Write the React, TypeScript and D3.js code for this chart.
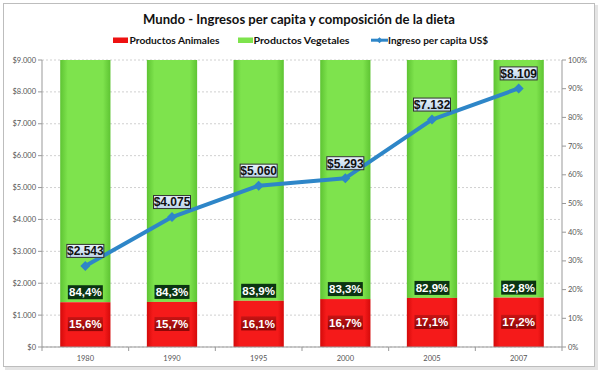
import React from "react";
import * as d3 from "d3";

const years = ["1980", "1990", "1995", "2000", "2005", "2007"];
const animales = [15.6, 15.7, 16.1, 16.7, 17.1, 17.2];
const vegetales = [84.4, 84.3, 83.9, 83.3, 82.9, 82.8];
const ingreso = [2543, 4075, 5060, 5293, 7132, 8109];
const leftTicks = [0, 1000, 2000, 3000, 4000, 5000, 6000, 7000, 8000, 9000];
const rightTicks = [0, 10, 20, 30, 40, 50, 60, 70, 80, 90, 100];

const W = 600, H = 376;
const M = { left: 42, right: 562, top: 60, bottom: 347 };

const fmtMoney = (v: number) => "$" + d3.format(",")(v).replace(/,/g, ".");
const fmtPct = (v: number) => v.toFixed(1).replace(".", ",") + "%";

export default function App() {
  const x = d3.scaleBand<string>().domain(years).range([M.left, M.right]).paddingInner(0.42).paddingOuter(0.21);
  const yL = d3.scaleLinear().domain([0, 9000]).range([M.bottom, M.top]);
  const yR = d3.scaleLinear().domain([0, 100]).range([M.bottom, M.top]);
  const cx = (y: string) => (x(y) as number) + x.bandwidth() / 2;
  const line = d3.line<number>().x((_, i) => cx(years[i])).y((d) => yL(d));
  const labelFont = "'Liberation Sans', Arial, sans-serif";
  const uiFont = "Lato, 'Open Sans', sans-serif";

  return (
    <div style={{ position: "fixed", left: 0, top: 0 }}>
      <svg width={W} height={H} style={{ display: "block" }}>
        <defs>
          <linearGradient id="gG" x1="0" x2="1" y1="0" y2="0">
            <stop offset="0" stopColor="#5ec433" />
            <stop offset="0.15" stopColor="#7ee34d" />
            <stop offset="0.85" stopColor="#7ee34d" />
            <stop offset="1" stopColor="#5ec433" />
          </linearGradient>
          <linearGradient id="gR" x1="0" x2="1" y1="0" y2="0">
            <stop offset="0" stopColor="#d40a0a" />
            <stop offset="0.12" stopColor="#f51a1a" />
            <stop offset="0.88" stopColor="#f51a1a" />
            <stop offset="1" stopColor="#d40a0a" />
          </linearGradient>
          <linearGradient id="gRL" x1="0" x2="0" y1="0" y2="1">
            <stop offset="0" stopColor="#c81414" />
            <stop offset="1" stopColor="#8a0606" />
          </linearGradient>
          <linearGradient id="gB" x1="0" x2="0" y1="0" y2="1">
            <stop offset="0" stopColor="#e8f2fb" />
            <stop offset="1" stopColor="#bcd3ea" />
          </linearGradient>
        </defs>
        <rect x={0} y={0} width={W} height={H} fill="#ffffff" />
        <rect x={3.5} y={3.5} width={591} height={363} fill="#fff" stroke="#bdbdbd" strokeWidth={1} />
        <rect x={5} y={367} width={591} height={3} fill="#e4e4e4" />
        <rect x={595} y={5} width={3} height={365} fill="#e4e4e4" />

        <text x={143} y={23.5} textLength={312} lengthAdjust="spacingAndGlyphs" fontFamily={uiFont} fontWeight="bold" fontSize={14} fill="#111">
          Mundo - Ingresos per capita y composición de la dieta
        </text>

        {/* legend */}
        <g fontFamily={uiFont} fontWeight="bold" fontSize={10} fill="#111">
          <rect x={113} y={37.5} width={15} height={5.5} fill="#ee1111" />
          <text x={129.5} y={44} textLength={90} lengthAdjust="spacingAndGlyphs">Productos Animales</text>
          <rect x={238} y={37.5} width={15} height={5.5} fill="#7ee34d" />
          <text x={253.5} y={44} textLength={96} lengthAdjust="spacingAndGlyphs">Productos Vegetales</text>
          <line x1={371} x2={388} y1={40.2} y2={40.2} stroke="#2e86c8" strokeWidth={3} />
          <path d="M379.5,37.2 L382.5,40.2 L379.5,43.2 L376.5,40.2Z" fill="#2e86c8" />
          <text x={388} y={44} textLength={100} lengthAdjust="spacingAndGlyphs">Ingreso per capita US$</text>
        </g>

        {/* grid */}
        {leftTicks.map((t) => (
          <line key={t} x1={M.left} x2={M.right} y1={yL(t)} y2={yL(t)} stroke="#d0d0d0" strokeDasharray="2,2" />
        ))}

        {/* bars */}
        {years.map((yr, i) => {
          const bx = x(yr) as number;
          const bw = x.bandwidth();
          return (
            <g key={yr}>
              <rect x={bx} y={yR(100)} width={bw} height={yR(animales[i]) - yR(100)} fill="url(#gG)" />
              <rect x={bx} y={yR(animales[i])} width={bw} height={yR(0) - yR(animales[i])} fill="url(#gR)" />
            </g>
          );
        })}

        {/* axes */}
        <g stroke="#999" fill="none">
          <line x1={M.left} x2={M.left} y1={M.top} y2={M.bottom} />
          <line x1={M.right} x2={M.right} y1={M.top} y2={M.bottom} />
          <line x1={M.left} x2={M.right} y1={M.bottom} y2={M.bottom} />
          {leftTicks.map((t) => (
            <line key={"l" + t} x1={M.left - 4} x2={M.left} y1={yL(t)} y2={yL(t)} />
          ))}
          {rightTicks.map((t) => (
            <line key={"r" + t} x1={M.right} x2={M.right + 4} y1={yR(t)} y2={yR(t)} />
          ))}
          {years.map((yr) => (
            <line key={"x" + yr} x1={(x(yr) as number) - (x.step() - x.bandwidth()) / 2} x2={(x(yr) as number) - (x.step() - x.bandwidth()) / 2} y1={M.bottom} y2={M.bottom + 4} />
          ))}
          <line x1={M.right} x2={M.right} y1={M.bottom} y2={M.bottom + 4} />
        </g>
        <g fontFamily={uiFont} fontSize={7.5} fill="#555">
          {leftTicks.map((t) => (
            <text key={t} x={M.left - 6} y={yL(t) + 2.5} textAnchor="end">{fmtMoney(t)}</text>
          ))}
          {rightTicks.map((t) => (
            <text key={t} x={M.right + 6} y={yR(t) + 2.5}>{t}%</text>
          ))}
          {years.map((yr) => (
            <text key={yr} x={cx(yr)} y={M.bottom + 14} textAnchor="middle">{yr}</text>
          ))}
        </g>

        {/* percentage labels */}
        <g fontFamily={labelFont} fontWeight="bold" fontSize={11.5} fill="#fff">
          {years.map((yr, i) => {
            const c = cx(yr);
            const gy = yR(animales[i]) - 10;
            const ry = (yR(animales[i]) + yR(0)) / 2 - 0.5;
            return (
              <g key={yr}>
                <rect x={c - 17.5} y={gy - 7} width={35} height={14} fill="#0b3512" />
                <text x={c} y={gy + 4.2} textAnchor="middle">{fmtPct(vegetales[i])}</text>
                <rect x={c - 17.5} y={ry - 7} width={35} height={14} fill="url(#gRL)" />
                <text x={c} y={ry + 4.2} textAnchor="middle">{fmtPct(animales[i])}</text>
              </g>
            );
          })}
        </g>

        {/* line */}
        <path d={line(ingreso) || ""} fill="none" stroke="#2e86c8" strokeWidth={4} strokeLinejoin="round" />
        {ingreso.map((v, i) => {
          const px = cx(years[i]);
          const py = yL(v);
          return <path key={i} d={`M${px},${py - 5} L${px + 5},${py} L${px},${py + 5} L${px - 5},${py}Z`} fill="#2e86c8" />;
        })}

        {/* money labels */}
        <g fontFamily={labelFont} fontWeight="bold" fontSize={12} fill="#111">
          {ingreso.map((v, i) => {
            const px = cx(years[i]);
            const py = yL(v) - 15;
            return (
              <g key={i}>
                <rect x={px - 18.5} y={py - 6.5} width={37} height={13} fill="url(#gB)" stroke="#333" strokeWidth={1} />
                <text x={px} y={py + 4.3} textAnchor="middle">{fmtMoney(v)}</text>
              </g>
            );
          })}
        </g>
      </svg>
    </div>
  );
}
